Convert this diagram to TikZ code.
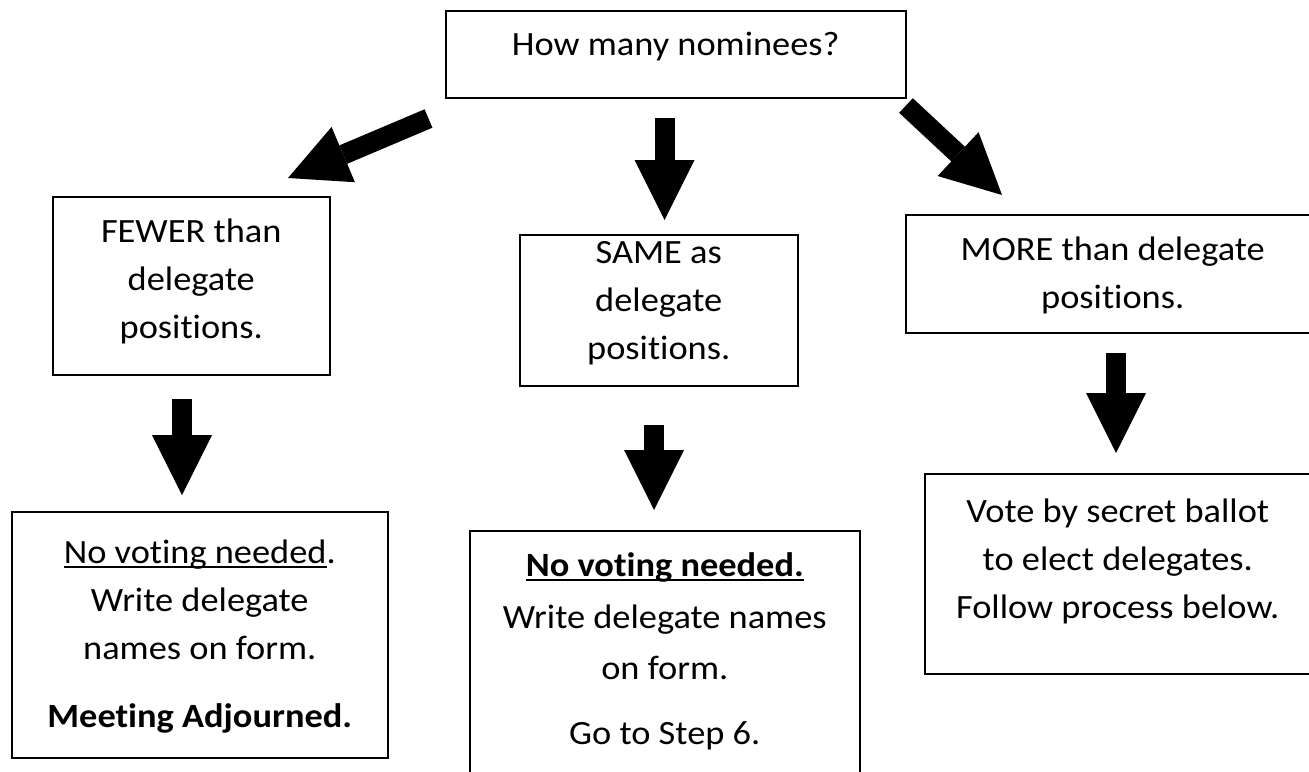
\documentclass[tikz,border=0pt]{standalone}
\usepackage{fontspec}
\setmainfont{Carlito}[FakeStretch=1.07,Ligatures=NoCommon]
\usetikzlibrary{arrows.meta}
\newcommand{\boxtxt}[4]{\parbox[c][#1][t]{#2}{\centering\fontsize{34pt}{48pt}\selectfont\rule{0pt}{#3}#4\par}}
\newcommand{\ulx}[1]{\setbox0=\hbox{#1}\rlap{\rule[-4.5pt]{\wd0}{2pt}}\box0}
\begin{document}
\begin{tikzpicture}[x=1pt,y=-1pt,
  box/.style={draw, line width=1.5pt, fill=white, inner sep=0pt, anchor=north west},
  bigarrow/.style={line width=20pt, -{Triangle[width=60pt,length=60pt,line width=0pt]}}]
\useasboundingbox (0,0) rectangle (1309,771);
% boxes
\node[box] (q) at (445,10) {\boxtxt{87pt}{460pt}{45pt}{How many nominees?}};
\node[box] (fewer) at (52,196) {\boxtxt{178pt}{277pt}{46pt}{FEWER than\\delegate\\positions.}};
\node[box] (same) at (519,234) {\boxtxt{151pt}{278pt}{29pt}{SAME as\\delegate\\positions.}};
\node[box] (more) at (905,214) {\boxtxt{118pt}{414pt}{46pt}{MORE than delegate\\positions.}};
\node[box] (rfewer) at (11,511) {\boxtxt{246pt}{376pt}{52pt}{\ulx{No voting needed}.\\Write delegate\\names on form.\\[20pt]\textbf{Meeting Adjourned.}}};
\node[box] (rsame) at (469,530) {\boxtxt{280pt}{390pt}{46pt}{\ulx{\textbf{No voting needed.}}\\[4pt]Write delegate names\\[3pt]on form.\\[17pt]Go to Step 6.}};
\node[box] (rmore) at (924,473) {\boxtxt{200pt}{386pt}{49pt}{Vote by secret ballot\\to elect delegates.\\Follow process below.}};
% arrow end points
\coordinate (a1s) at (428.5,118.5); \coordinate (a1e) at (288,178);
\coordinate (a2s) at (664.5,118);   \coordinate (a2e) at (664.5,220);
\coordinate (a3s) at (906,105.5);   \coordinate (a3e) at (1002,195);
\coordinate (a4s) at (182,399);     \coordinate (a4e) at (182,495);
\coordinate (a5s) at (654,425);     \coordinate (a5e) at (654,510);
\coordinate (a6s) at (1116,353);    \coordinate (a6e) at (1116,453);
\draw[bigarrow] (a1s) -- (a1e);
\draw[bigarrow] (a2s) -- (a2e);
\draw[bigarrow] (a3s) -- (a3e);
\draw[bigarrow] (a4s) -- (a4e);
\draw[bigarrow] (a5s) -- (a5e);
\draw[bigarrow] (a6s) -- (a6e);
\end{tikzpicture}
\end{document}
